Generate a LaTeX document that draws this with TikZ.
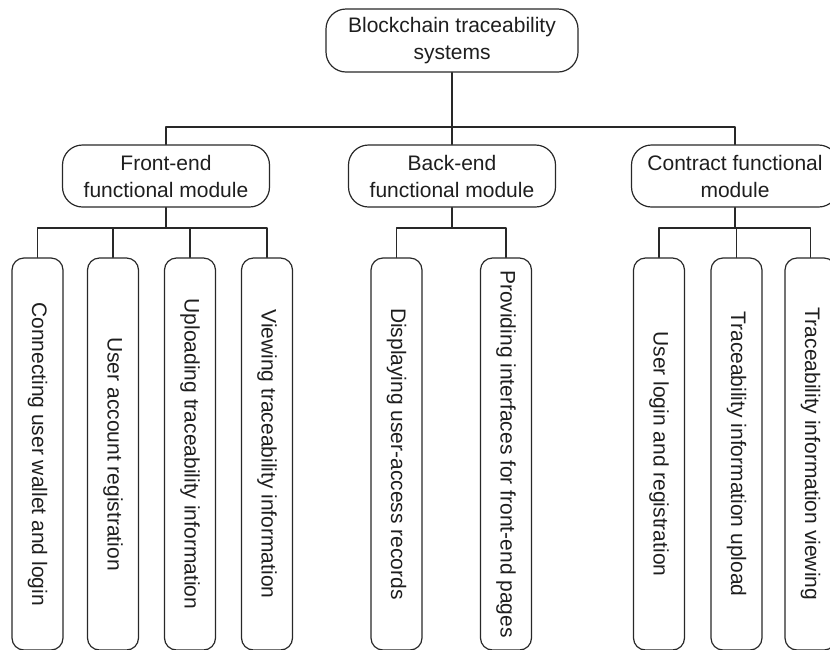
\documentclass[tikz,border=0pt]{standalone}
\usepackage{fontspec}
\setmainfont{Liberation Sans}
\usepackage{xcolor}
\usetikzlibrary{calc}
\definecolor{ColLine}{RGB}{40,40,40}
\definecolor{ColText}{RGB}{30,30,30}

\begin{document}
\begin{tikzpicture}[
  x=0.5pt, y=-0.5pt,
  line cap=round,
  line join=round,
  every node/.style={font=\fontsize{10.5}{13.5}\selectfont, text=ColText},
  rootbox/.style={draw=ColLine, line width=0.6pt, rounded corners=10pt,
    align=center, minimum width=126pt, minimum height=31.5pt, inner sep=1pt},
  modbox/.style={draw=ColLine, line width=0.6pt, rounded corners=10pt,
    align=center, minimum width=103.5pt, minimum height=31pt, inner sep=1pt},
  leafbox/.style={draw=ColLine, line width=0.6pt, rounded corners=6pt,
    rotate=-90, minimum width=196pt, minimum height=25.5pt, inner sep=1pt},
  link/.style={draw=ColLine, line width=0.6pt}
]
  \useasboundingbox (0,0) rectangle (830,649);

  % Top of the tree
  \node[rootbox] (root) at (452, 40.5) {Blockchain traceability\\systems};

  % Three modules
  \node[modbox] (front)    at (166, 176) {Front-end\\functional module};
  \node[modbox] (back)     at (452, 176) {Back-end\\functional module};
  \node[modbox] (contract) at (735, 176) {Contract functional\\module};

  \draw[link] (root.south) -- (root.south |- 0,127);
  \foreach \m in {front,back,contract}{\draw[link] (\m.north) |- (root.south |- 0,127);}

  % Front-end leaves
  \node[leafbox] (fa) at (37.5, 454) {Connecting user wallet and login};
  \node[leafbox] (fb) at (113, 454)  {User account registration};
  \node[leafbox] (fc) at (190, 454)  {Uploading traceability information};
  \node[leafbox] (fd) at (267, 454)  {Viewing traceability information};

  % Back-end leaves
  \node[leafbox] (ba) at (396.5, 454) {Displaying user-access records};
  \node[leafbox] (bb) at (506, 454)   {Providing interfaces for front-end pages};

  % Contract leaves
  \node[leafbox] (ca) at (659, 454)   {User login and registration};
  \node[leafbox] (cb) at (736.5, 454) {Traceability information upload};
  \node[leafbox] (cc) at (810.5, 454) {Traceability information viewing};

  % Connectors from modules to leaves
  \foreach \p/\kids in {front/{fa,fb,fc,fd}, back/{ba,bb}, contract/{ca,cb,cc}}{
    \draw[link] (\p.south) -- (\p.south |- 0,228);
    \foreach \k in \kids {\draw[link] (\k.west) |- (\p.south |- 0,228);}
  }
\end{tikzpicture}
\end{document}
